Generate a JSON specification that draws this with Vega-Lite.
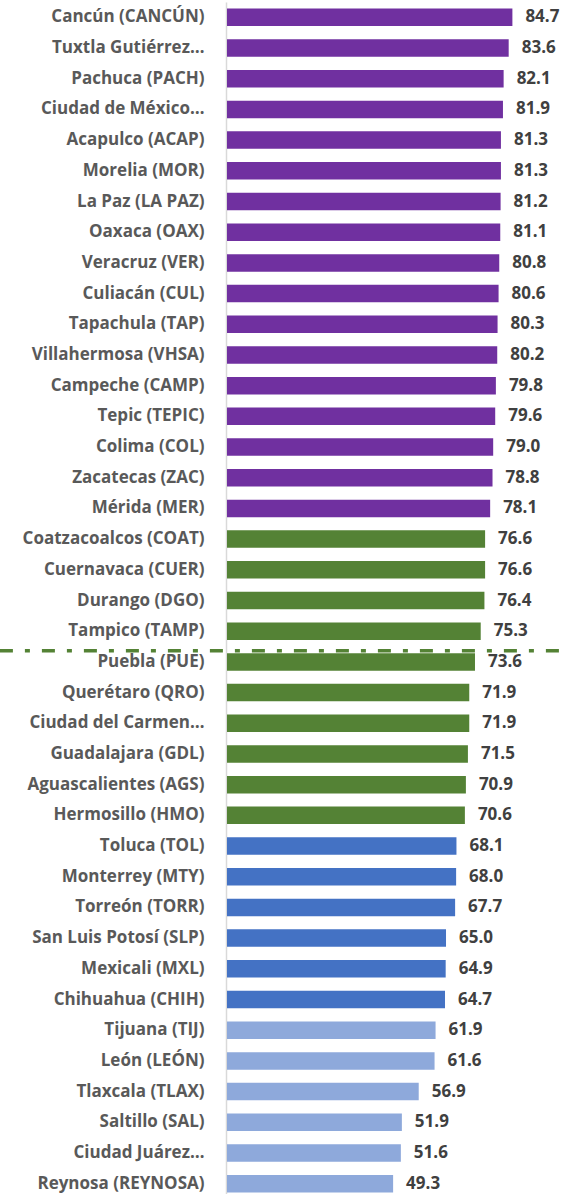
{
  "$schema": "https://vega.github.io/schema/vega-lite/v6.json",
  "width": 342,
  "height": 1197,
  "autosize": {"type": "none"},
  "padding": {"left": 227, "top": 2, "right": 0, "bottom": 0},
  "background": "white",
  "config": {"view": {"stroke": null}, "font": "Open Sans"},
  "datasets": {
    "cities": [
      {"name": "Cancún (CANCÚN)", "value": 84.7, "group": "a"},
      {"name": "Tuxtla Gutiérrez…", "value": 83.6, "group": "a"},
      {"name": "Pachuca (PACH)", "value": 82.1, "group": "a"},
      {"name": "Ciudad de México…", "value": 81.9, "group": "a"},
      {"name": "Acapulco (ACAP)", "value": 81.3, "group": "a"},
      {"name": "Morelia (MOR)", "value": 81.3, "group": "a"},
      {"name": "La Paz (LA PAZ)", "value": 81.2, "group": "a"},
      {"name": "Oaxaca (OAX)", "value": 81.1, "group": "a"},
      {"name": "Veracruz (VER)", "value": 80.8, "group": "a"},
      {"name": "Culiacán (CUL)", "value": 80.6, "group": "a"},
      {"name": "Tapachula (TAP)", "value": 80.3, "group": "a"},
      {"name": "Villahermosa (VHSA)", "value": 80.2, "group": "a"},
      {"name": "Campeche (CAMP)", "value": 79.8, "group": "a"},
      {"name": "Tepic (TEPIC)", "value": 79.6, "group": "a"},
      {"name": "Colima (COL)", "value": 79.0, "group": "a"},
      {"name": "Zacatecas (ZAC)", "value": 78.8, "group": "a"},
      {"name": "Mérida (MER)", "value": 78.1, "group": "a"},
      {"name": "Coatzacoalcos (COAT)", "value": 76.6, "group": "b"},
      {"name": "Cuernavaca (CUER)", "value": 76.6, "group": "b"},
      {"name": "Durango (DGO)", "value": 76.4, "group": "b"},
      {"name": "Tampico (TAMP)", "value": 75.3, "group": "b"},
      {"name": "Puebla (PUE)", "value": 73.6, "group": "b"},
      {"name": "Querétaro (QRO)", "value": 71.9, "group": "b"},
      {"name": "Ciudad del Carmen…", "value": 71.9, "group": "b"},
      {"name": "Guadalajara (GDL)", "value": 71.5, "group": "b"},
      {"name": "Aguascalientes (AGS)", "value": 70.9, "group": "b"},
      {"name": "Hermosillo (HMO)", "value": 70.6, "group": "b"},
      {"name": "Toluca (TOL)", "value": 68.1, "group": "c"},
      {"name": "Monterrey (MTY)", "value": 68.0, "group": "c"},
      {"name": "Torreón (TORR)", "value": 67.7, "group": "c"},
      {"name": "San Luis Potosí (SLP)", "value": 65.0, "group": "c"},
      {"name": "Mexicali (MXL)", "value": 64.9, "group": "c"},
      {"name": "Chihuahua (CHIH)", "value": 64.7, "group": "c"},
      {"name": "Tijuana (TIJ)", "value": 61.9, "group": "d"},
      {"name": "León (LEÓN)", "value": 61.6, "group": "d"},
      {"name": "Tlaxcala (TLAX)", "value": 56.9, "group": "d"},
      {"name": "Saltillo (SAL)", "value": 51.9, "group": "d"},
      {"name": "Ciudad Juárez…", "value": 51.6, "group": "d"},
      {"name": "Reynosa (REYNOSA)", "value": 49.3, "group": "d"}
    ],
    "threshold": [{"name": "Puebla (PUE)"}]
  },
  "layer": [
    {
      "data": {"name": "cities"},
      "mark": {"type": "bar"},
      "encoding": {
        "y": {
          "field": "name", "type": "nominal", "sort": null,
          "scale": {"paddingInner": 0.43, "paddingOuter": 0.215},
          "axis": {
            "title": null, "ticks": false, "domainColor": "#d9d9d9", "domainWidth": 1.5,
            "offset": 1, "labelPadding": 22, "labelFontSize": 17, "labelFontWeight": "bold",
            "labelColor": "#595959", "labelLimit": 0, "labelFont": "Open Sans"
          }
        },
        "x": {"field": "value", "type": "quantitative", "scale": {"domain": [0, 101.5], "nice": false, "zero": false}, "axis": null},
        "color": {
          "field": "group", "type": "nominal",
          "scale": {"domain": ["a", "b", "c", "d"], "range": ["#7030A0", "#548235", "#4472C4", "#8EA9DB"]},
          "legend": null
        }
      }
    },
    {
      "data": {"name": "cities"},
      "mark": {"type": "text", "align": "left", "baseline": "middle", "dx": 13, "fontWeight": "bold", "fontSize": 17, "color": "#404040", "font": "Open Sans"},
      "encoding": {
        "y": {"field": "name", "type": "nominal", "sort": null},
        "x": {"field": "value", "type": "quantitative"},
        "text": {"field": "value", "type": "quantitative", "format": ".1f"}
      }
    },
    {
      "data": {"name": "threshold"},
      "mark": {"type": "rule", "color": "#548235", "strokeWidth": 3.5, "strokeDash": [13, 12, 5, 12], "yOffset": -2.5},
      "encoding": {
        "y": {"field": "name", "type": "nominal", "sort": null, "bandPosition": 0},
        "x": {"datum": -67.4},
        "x2": {"datum": 101.5}
      }
    }
  ]
}
